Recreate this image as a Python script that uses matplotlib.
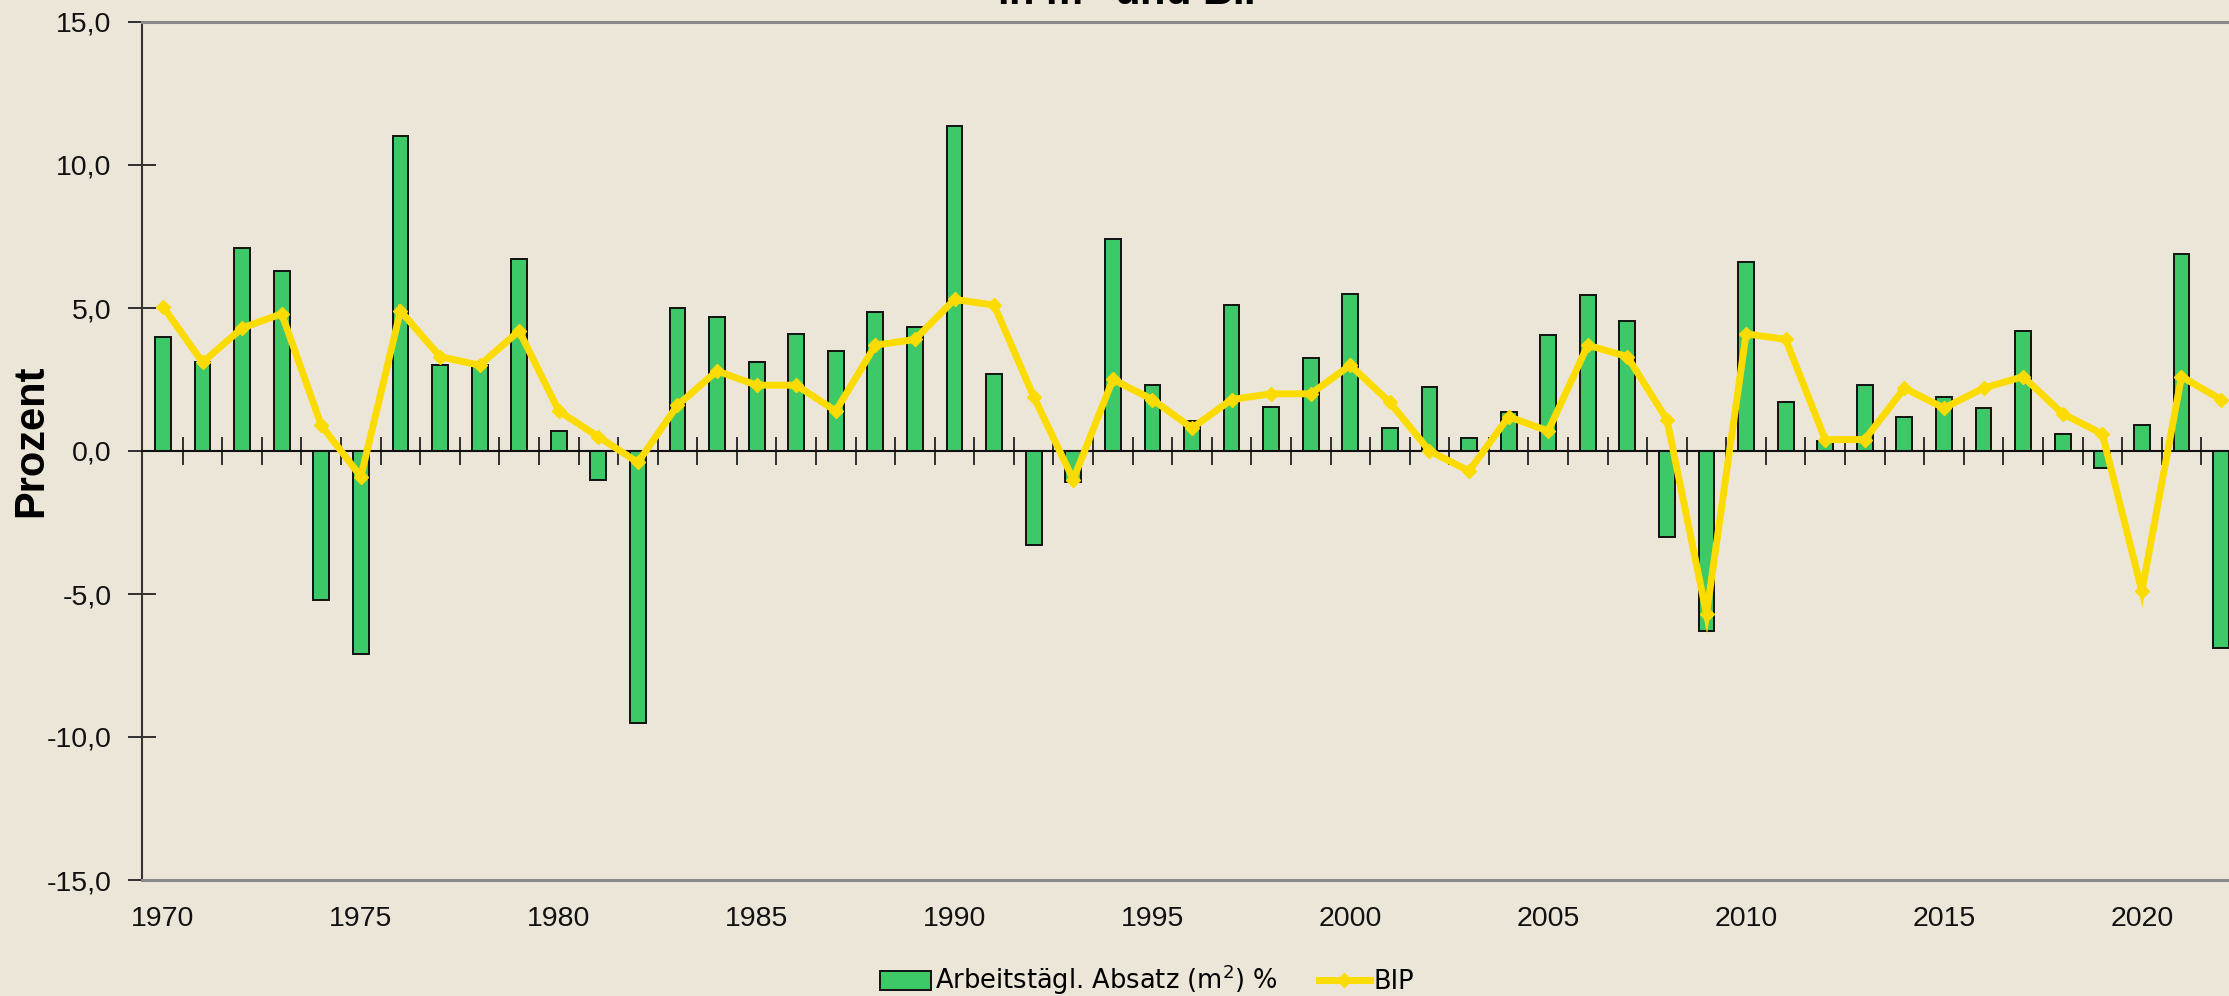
import matplotlib
matplotlib.use("Agg")
import matplotlib.pyplot as plt
import numpy as np
from matplotlib.ticker import FuncFormatter

years = list(range(1970, 2023))
absatz = [4.0, 3.1, 7.1, 6.3, -5.2, -7.1, 11.0, 3.0, 3.0, 6.7,
          0.7, -1.0, -9.5, 5.0, 4.7, 3.1, 4.1, 3.5, 4.85, 4.35,
          11.35, 2.7, -3.3, -1.1, 7.4, 2.3, 1.05, 5.1, 1.55, 3.25,
          5.5, 0.8, 2.25, 0.45, 1.35, 4.05, 5.45, 4.55, -3.0, -6.3,
          6.6, 1.7, 0.35, 2.3, 1.2, 1.9, 1.5, 4.2, 0.6, -0.6,
          0.9, 6.9, -6.9]
bip = [5.05, 3.1, 4.3, 4.8, 0.9, -0.9, 4.9, 3.3, 3.0, 4.2,
       1.4, 0.5, -0.4, 1.6, 2.8, 2.3, 2.3, 1.4, 3.7, 3.9,
       5.3, 5.1, 1.9, -1.0, 2.5, 1.8, 0.8, 1.8, 2.0, 2.0,
       3.0, 1.7, 0.0, -0.7, 1.2, 0.7, 3.7, 3.3, 1.1, -5.7,
       4.1, 3.9, 0.4, 0.4, 2.2, 1.5, 2.2, 2.6, 1.3, 0.6,
       -4.9, 2.6, 1.8]
y_ticks = [-15, -10, -5, 0, 5, 10, 15]
x_labels = list(range(1970, 2021, 5))

bg = "#ECE6D9"
green = "#3EC968"
yellow = "#FCDC00"

W, H = 2229, 996
fig = plt.figure(figsize=(W / 100, H / 100), dpi=100, facecolor=bg)
ax = fig.add_axes([142 / W, 116 / H, (2242 - 142) / W, (974 - 116) / H])
ax.set_facecolor(bg)

bars = ax.bar(years, absatz, width=0.4, color=green, edgecolor="#111111",
              linewidth=1.4, zorder=2, label="Arbeitstägl. Absatz (m$^2$) %")
line, = ax.plot(years, bip, color=yellow, linewidth=5, marker="D",
                markersize=7.5, zorder=4, label="BIP", solid_joinstyle="miter")

ax.set_xlim(1969.47, 2022.53)
ax.set_ylim(-15, 15)
ax.set_yticks(y_ticks)
ax.yaxis.set_major_formatter(FuncFormatter(lambda v, p: f"{v:.1f}".replace(".", ",")))
ax.tick_params(axis="y", direction="inout", length=20, width=1.2, pad=12,
               labelsize=20.5, colors="#111111")
ax.set_xticks(x_labels)
ax.set_xticklabels([str(v) for v in x_labels])
ax.tick_params(axis="x", length=0, pad=19, labelsize=20.5, colors="#111111")
for lab in ax.get_xticklabels() + ax.get_yticklabels():
    lab.set_fontfamily("Liberation Sans")

for s in ["top", "bottom"]:
    ax.spines[s].set_color("#8A8A8A")
    ax.spines[s].set_linewidth(2.2)
ax.spines["left"].set_color("#333333")
ax.spines["left"].set_linewidth(1.5)
ax.spines["right"].set_visible(False)

sec = ax.secondary_xaxis(0.5)
sec.set_xticks([y + 0.5 for y in years[:-1]])
sec.tick_params(direction="inout", length=20, width=1.2, labelbottom=False,
                labeltop=False, colors="#111111")
for s in ["bottom", "top"]:
    sec.spines[s].set_color("#111111")
    sec.spines[s].set_linewidth(1.5)
sec.set_zorder(3)

fig.text(31 / W, 1 - 441 / H, "Prozent", rotation=90, ha="center", va="center",
         fontsize=30, fontweight="bold", fontfamily="Liberation Sans")

fig.text(1134 / W, 1 - 5 / H, "in m$^2$ und BIP", ha="center", va="baseline",
         fontsize=30, fontweight="bold", fontfamily="Liberation Sans")

leg = fig.legend(handles=[bars, line], loc="center", ncol=2,
                 bbox_to_anchor=(1147 / W, 1 - 980 / H), frameon=False,
                 fontsize=18.5, handlelength=2.0, handleheight=0.75,
                 handletextpad=0.15, columnspacing=1.6, borderpad=0.1)

fig.savefig("out.png", dpi=100, facecolor=bg)
